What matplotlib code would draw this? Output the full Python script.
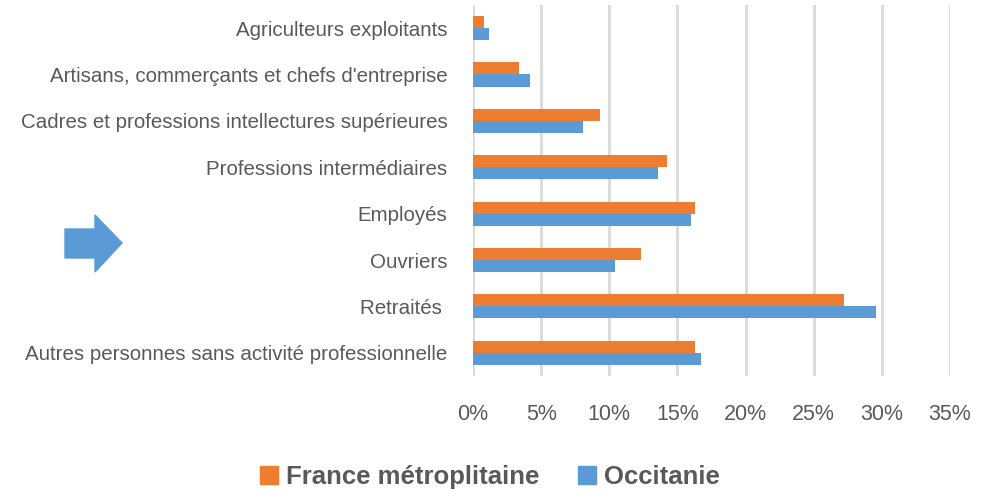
import numpy as np
import matplotlib
matplotlib.use("Agg")
import matplotlib.pyplot as plt
from matplotlib.patches import Patch, Polygon
from matplotlib.ticker import PercentFormatter

# categories top -> bottom
categories = [
    "Agriculteurs exploitants",
    "Artisans, commerçants et chefs d'entreprise",
    "Cadres et professions intellectures supérieures",
    "Professions intermédiaires",
    "Employés",
    "Ouvriers",
    "Retraités ",
    "Autres personnes sans activité professionnelle",
]
france = [0.8, 3.4, 9.3, 14.2, 16.3, 12.3, 27.2, 16.3]
occitanie = [1.2, 4.2, 8.1, 13.6, 16.0, 10.4, 29.6, 16.7]
series_names = ["France métroplitaine", "Occitanie"]
xticks = [0, 5, 10, 15, 20, 25, 30, 35]

orange = "#ED7D31"
blue = "#5B9BD5"
grey = "#595959"

plt.rcParams["font.family"] = ["Liberation Sans", "DejaVu Sans"]

fig = plt.figure(figsize=(9.95, 4.91), dpi=100)
ax = fig.add_axes([0.4754, 0.2342, 0.4794, 0.7558])

y = np.arange(len(categories))
h = 0.26
ax.barh(y - h / 2, france, height=h, color=orange, zorder=3)
ax.barh(y + h / 2, occitanie, height=h, color=blue, zorder=3)

ax.set_ylim(len(categories) - 0.5, -0.5)
ax.set_xlim(0, 35)
ax.set_xticks(xticks)
ax.xaxis.set_major_formatter(PercentFormatter(decimals=0))
ax.set_yticks(y)
ax.set_yticklabels(categories)
ax.tick_params(axis="y", length=0, pad=18.5, labelsize=14.8, labelcolor=grey)
ax.tick_params(axis="x", length=0, pad=20, labelsize=15.5, labelcolor=grey)
ax.grid(axis="x", color="#d9d9d9", linewidth=2, zorder=0)
for s in ax.spines.values():
    s.set_visible(False)

# legend
handles = [Patch(color=orange), Patch(color=blue)]
fig.legend(handles, series_names, loc="center", bbox_to_anchor=(0.4925, 1 - 477 / 491),
           ncol=2, frameon=False, handlelength=0.7, handleheight=0.7,
           handletextpad=0.3, columnspacing=1.5,
           prop={"weight": "bold", "size": 18.5},
           labelcolor=grey)

# decorative arrow
W, H = 995, 491
pts = [(65, 229), (95, 229), (95, 215), (122, 243), (95, 272), (95, 258), (65, 258)]
arrow = Polygon([(px / W, 1 - py / H) for px, py in pts], closed=True,
                transform=fig.transFigure, color=blue)
fig.patches.append(arrow)

fig.savefig("out.png", dpi=100)
